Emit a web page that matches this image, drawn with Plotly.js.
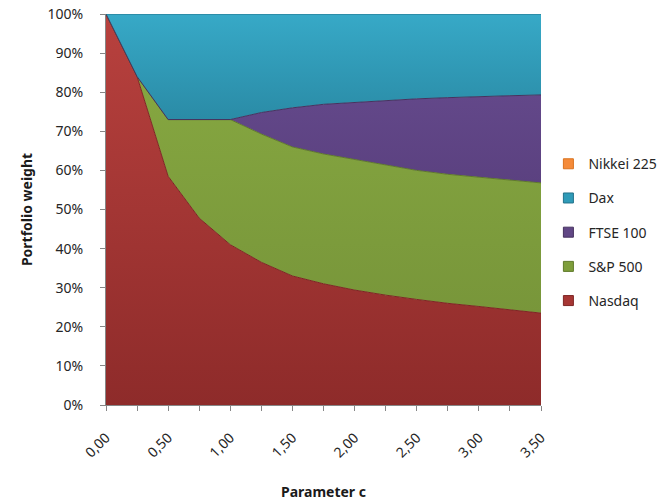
<!DOCTYPE html>
<html>
<head>
<meta charset="utf-8">
<script src="https://cdn.plot.ly/plotly-3.0.1.min.js"></script>
<style>
  html, body { margin: 0; padding: 0; background: #fff; }
  #chart { width: 665px; height: 502px; }
</style>
</head>
<body>
<div id="chart"></div>
<script>
// Parameter c (category steps of 0.25)
const paramC = [0, 0.25, 0.5, 0.75, 1.0, 1.25, 1.5, 1.75, 2.0, 2.25, 2.5, 2.75, 3.0, 3.25, 3.5];

// Portfolio weights in percent, per index
const nasdaq  = [100, 84, 58.5, 47.8, 41, 36.5, 33, 31, 29.4, 28.1, 27, 26, 25.2, 24.3, 23.5];
const sp500   = [0, 0, 14.5, 25.2, 32, 32.8, 33, 33.2, 33.4, 33.2, 33, 33, 33.1, 33.2, 33.3];
const ftse100 = [0, 0, 0, 0, 0, 5.5, 10, 12.7, 14.6, 16.6, 18.3, 19.6, 20.6, 21.6, 22.5];
const dax     = [0, 16, 27, 27, 27, 25.2, 24, 23.1, 22.6, 22.1, 21.7, 21.4, 21.1, 20.9, 20.7];
const nikkei  = [0, 0, 0, 0, 0, 0, 0, 0, 0, 0, 0, 0, 0, 0, 0];

const seriesNames = ['Nasdaq', 'S&P 500', 'FTSE 100', 'Dax', 'Nikkei 225'];
const seriesData = [nasdaq, sp500, ftse100, dax, nikkei];
const seriesColors = ['#A63634', '#7E9E3B', '#614785', '#2F9BB8', '#F58B3A'];
const edgeColors = ['#7E2524', '#5F7A2A', '#46325F', '#23728A', '#D9731F'];
const gradients = [
  [[0, '#8E2B2A'], [1, '#B8413E']],
  [[0, '#78963A'], [1, '#89AB42']],
  [[0, '#5B4180'], [1, '#6A4E92']],
  [[0, '#2A8BA6'], [1, '#37A9C7']],
  null
];

const xTicks = [0, 0.5, 1.0, 1.5, 2.0, 2.5, 3.0, 3.5];

const traces = [];
// stacked areas
seriesNames.forEach((name, i) => {
  const t = {
    type: 'scatter', mode: 'lines', x: paramC, y: seriesData[i], name: name,
    stackgroup: 'w', showlegend: false,
    line: { color: edgeColors[i], width: i === 4 ? 0 : 1 },
    fillcolor: seriesColors[i],
    hoverinfo: 'x+y+name'
  };
  if (gradients[i]) t.fillgradient = { type: 'vertical', colorscale: gradients[i] };
  traces.push(t);
});
// legend keys (square swatches), Nikkei 225 listed first
for (let i = seriesNames.length - 1; i >= 0; i--) {
  traces.push({
    type: 'scatter', mode: 'markers', x: [null], y: [null], name: seriesNames[i],
    legendgroup: seriesNames[i], showlegend: true,
    marker: { symbol: 'square', size: 10, color: seriesColors[i], line: { color: edgeColors[i], width: 1 } }
  });
}

const layout = {
  width: 665, height: 502,
  margin: { l: 106, r: 124, t: 14, b: 97, autoexpand: false },
  paper_bgcolor: '#ffffff', plot_bgcolor: '#ffffff',
  separators: ',.',
  font: { family: 'Noto Sans, Liberation Sans, sans-serif', size: 14, color: '#262626' },
  showlegend: true,
  legend: {
    x: 1.017, xanchor: 'left', y: 0.442, yanchor: 'middle',
    traceorder: 'grouped', tracegroupgap: 13,
    font: { size: 14, color: '#262626' },
    itemwidth: 30
  },
  xaxis: {
    range: [0, 3.5], tickmode: 'array', tickvals: xTicks, tickformat: '.2f',
    tickangle: -45, ticks: 'outside', ticklen: 5, tickcolor: '#868686',
    ticklabelstandoff: 13,
    showline: true, linecolor: '#868686', linewidth: 1,
    showgrid: false, zeroline: false,
    minor: { dtick: 0.25, tick0: 0, ticks: 'outside', ticklen: 5, tickcolor: '#868686', showgrid: false },
    title: { text: 'Parameter c', font: { size: 14, color: '#1a1a1a', weight: 'bold' }, standoff: 26 }
  },
  yaxis: {
    range: [0, 100], dtick: 10, ticksuffix: '%',
    ticks: 'outside', ticklen: 5, tickcolor: '#868686',
    ticklabelstandoff: 14,
    showline: true, linecolor: '#868686', linewidth: 1,
    showgrid: false, zeroline: false,
    title: { text: 'Portfolio weight', font: { size: 14, color: '#1a1a1a', weight: 'bold' }, standoff: 11 }
  }
};

Plotly.newPlot('chart', traces, layout, { displayModeBar: false, staticPlot: true });
</script>
</body>
</html>
